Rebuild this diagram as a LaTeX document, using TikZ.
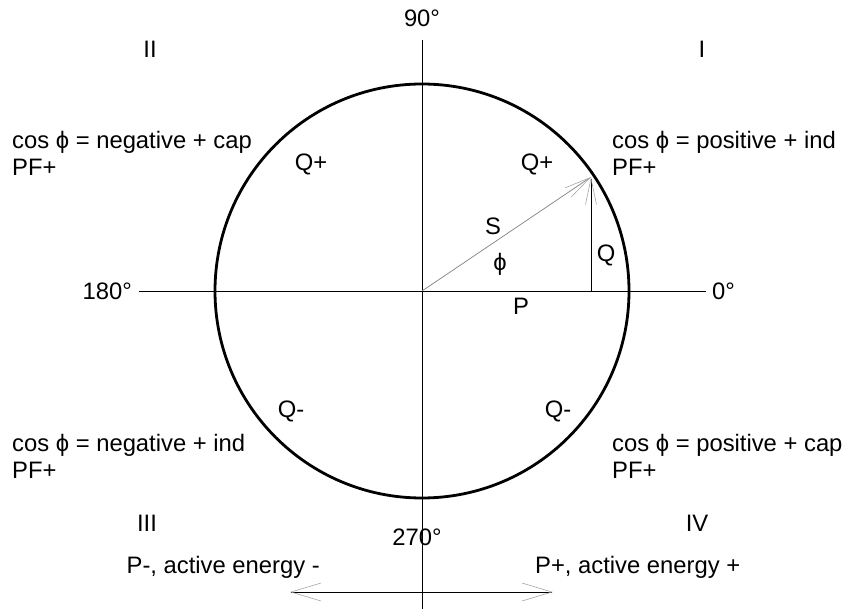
\documentclass[tikz,border=0pt]{standalone}
\usepackage{fontspec}
\setmainfont{Liberation Sans}
\usetikzlibrary{arrows.meta,positioning}

\begin{document}
\begin{tikzpicture}[
        x=1pt, y=-1pt,
        lbl/.style={font=\fontsize{23.8}{27}\selectfont, inner sep=0pt},
        quad/.style={lbl, anchor=west, align=left},
        axis/.style={line width=0.9pt},
        ring/.style={line width=2.8pt},
        vec/.style={line width=0.7pt, -{Straight Barb[length=26pt,width=11pt,line width=0.6pt,color=gray!70]}},
        span/.style={line width=0.9pt, {Straight Barb[length=30pt,width=18pt,line width=0.6pt,color=gray!70]}-{Straight Barb[length=30pt,width=18pt,line width=0.6pt,color=gray!70]}}
    ]
        \useasboundingbox (0,0) rectangle (848,609);

        % axes and circle
        \coordinate (O) at (422,291);
        \coordinate (xl) at (139,291);
        \coordinate (xr) at (706,291);
        \coordinate (yt) at (422,40);
        \coordinate (yb) at (422,609);
        \draw[axis] (xl) -- (xr);
        \draw[axis] (yt) -- (yb);
        \draw[ring] (O) circle[radius=207];

        % power triangle
        \coordinate (tip) at (591,177);
        \coordinate (foot) at (591,291);
        \draw[vec, gray] (O) -- (tip);
        \draw[vec] (foot) -- (tip);

        % energy arrow
        \coordinate (al) at (290,592);
        \coordinate (ar) at (553,592);
        \draw[span] (al) -- (ar);

        % angles
        \node[lbl] (d90) at (422,18) {90°};
        \node[lbl, anchor=east] (d180) at (132,291) {180°};
        \node[lbl, anchor=west] (d0) at (712,291) {0°};
        \node[lbl] (d270) at (417,537) {270°};

        % quadrants
        \node[lbl] (qI) at (702,49) {I};
        \node[lbl] (qII) at (150,49) {II};
        \node[lbl] (qIII) at (147,523) {III};
        \node[lbl] (qIV) at (697,523) {IV};

        \node[quad] (capII) at (12,153) {cos ϕ = negative + cap\\PF+};
        \node[quad] (indI) at (612,153) {cos ϕ = positive + ind\\PF+};
        \node[quad] (indIII) at (12,456) {cos ϕ = negative + ind\\PF+};
        \node[quad] (capIV) at (612,456) {cos ϕ = positive + cap\\PF+};

        \node[lbl] (qpII) at (311,164) {Q+};
        \node[lbl] (qpI) at (537,164) {Q+};
        \node[lbl] (qmIII) at (291,411) {Q-};
        \node[lbl] (qmIV) at (558,411) {Q-};

        % triangle labels
        \node[lbl] (lS) at (493,226) {S};
        \node[lbl] (lphi) at (500,264) {ϕ};
        \node[lbl] (lQ) at (606,255) {Q};
        \node[lbl] (lP) at (521,306) {P};

        % energy labels
        \node[lbl, anchor=east] (pneg) at (320,567) {P-, active energy -};
        \node[lbl, anchor=west] (ppos) at (535,567) {P+, active energy +};
    \end{tikzpicture}
\end{document}
